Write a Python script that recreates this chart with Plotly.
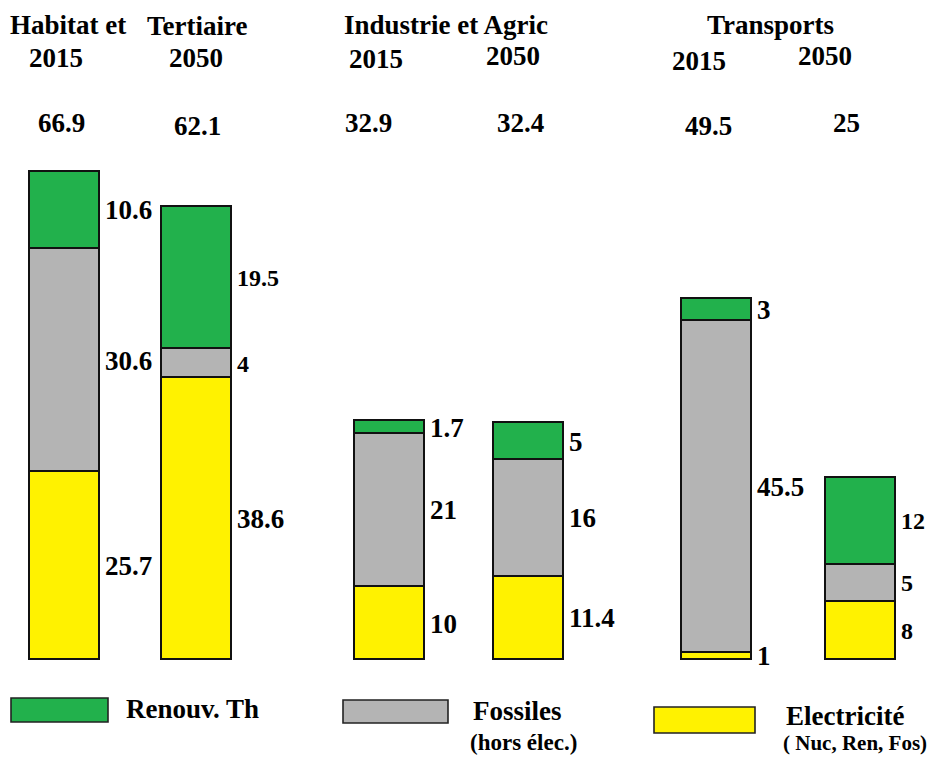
import plotly.graph_objects as go

# ---------------- data ----------------
groups = ["Habitat et", "Tertiaire", "Industrie et Agric", "Transports"]
years = ["2015", "2050", "2015", "2050", "2015", "2050"]
totals = ["66.9", "62.1", "32.9", "32.4", "49.5", "25"]
electricite = [25.7, 38.6, 10, 11.4, 1, 8]
fossiles = [30.6, 4, 21, 16, 45.5, 5]
renouv = [10.6, 19.5, 1.7, 5, 3, 12]
legend_names = ["Renouv. Th", "Fossiles", "Electricité"]
legend_subs = ["", "(hors élec.)", "( Nuc, Ren, Fos)"]

# ---------------- layout / style ----------------
W, H = 942, 758
OFF = 8                      # page body margin offset
bar_x = [65, 197, 390, 529, 717, 861]   # page pixel centres
bar_w = 70
base_px = 660                # page pixel of the baseline
px_per_unit = 7.3
C_GREEN, C_GREY, C_YELLOW = "#22b14c", "#b4b4b4", "#fff200"
FONT = "Liberation Serif"
small_label = {(1, "r"), (1, "f"), (5, "r"), (5, "f"), (5, "e")}


def P(x, y):
    return (x - OFF) / W, 1 - (y - OFF) / H


fig = go.Figure()
for vals, col in [(electricite, C_YELLOW), (fossiles, C_GREY), (renouv, C_GREEN)]:
    fig.add_trace(go.Bar(
        x=bar_x, y=vals, width=bar_w,
        marker=dict(color=col, line=dict(color="#111", width=1.6)),
        showlegend=False, hoverinfo="skip"))

ann = []
for i in range(6):
    b = 0
    for vals, key in [(electricite, "e"), (fossiles, "f"), (renouv, "r")]:
        v = vals[i]
        ann.append(dict(x=bar_x[i] + bar_w / 2, y=b + v / 2, xref="x", yref="y",
                        text=f"{v:g}", showarrow=False, xanchor="left", yanchor="middle", xshift=3,
                        font=dict(family=FONT, size=24 if (i, key) in small_label else 27,
                                  color="#000", weight="bold")))
        b += v


def txt(t, x, y, size=27, xanchor="center"):
    px, py = P(x, y)
    ann.append(dict(x=px, y=py, xref="paper", yref="paper", text=t, showarrow=False,
                    xanchor=xanchor, yanchor="middle",
                    font=dict(family=FONT, size=size, color="#000", weight="bold")))


# headers
txt(groups[0], 8, 25, xanchor="left")
txt(groups[1], 145, 26, xanchor="left")
txt(groups[2], 342, 25, xanchor="left")
txt(groups[3], 705, 25, xanchor="left")
year_pos = [(56, 58), (196, 58), (376, 59), (513, 56), (699, 61), (825, 56)]
tot_pos = [(61, 123), (197, 126), (368, 123), (520, 123), (708, 126), (846, 123)]
for i in range(6):
    txt(years[i], *year_pos[i])
    txt(totals[i], *tot_pos[i])

# legend
shapes = []
leg = [(C_GREEN, (11, 698, 108, 722), (124, 709), (None, 23)),
       (C_GREY, (343, 700, 448, 723), (471, 711), ((523, 742), 23)),
       (C_YELLOW, (654, 707, 755, 733), (784, 716), ((855, 743), 21))]
for k, (col, (x0, y0, x1, y1), (tx, ty), (sub, ssize)) in enumerate(leg):
    a0, b0 = P(x0, y0)
    a1, b1 = P(x1, y1)
    shapes.append(dict(type="rect", xref="paper", yref="paper", x0=a0, x1=a1, y0=b1, y1=b0,
                       fillcolor=col, line=dict(color="#222", width=1.6)))
    txt(legend_names[k], tx, ty, size=27, xanchor="left")
    if sub:
        txt(legend_subs[k], sub[0], sub[1], size=ssize)

plot_h = base_px - OFF
fig.update_layout(
    barmode="stack", bargap=0,
    width=W, height=H, margin=dict(l=0, r=0, t=0, b=0),
    paper_bgcolor="white", plot_bgcolor="white",
    xaxis=dict(range=[OFF, OFF + W], visible=False, fixedrange=True),
    yaxis=dict(range=[0, plot_h / px_per_unit], domain=[1 - plot_h / H, 1],
               visible=False, fixedrange=True),
    annotations=ann, shapes=shapes,
)
fig.write_html("out.html")
